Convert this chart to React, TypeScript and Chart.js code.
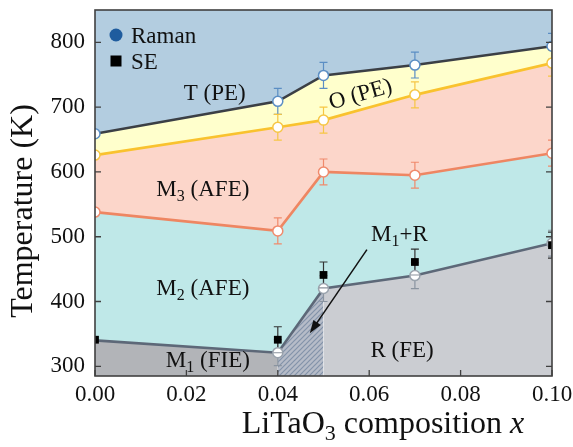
import React, { useEffect, useRef } from "react";
import { Chart, registerables } from "chart.js";
Chart.register(...registerables);

// ---- data ----
const composition = [0, 0.04, 0.05, 0.07, 0.1];
const tBoundary = [659, 709, 749, 765, 794]; // T (PE) | O (PE)
const oBoundary = [626, 669, 680, 719, 768]; // O (PE) | M3 (AFE)
const m3Boundary = [538, 509, 600, 595, 629]; // M3 (AFE) | M2 (AFE)
const m2Boundary = [340, 321, 420, 440, 490]; // M2 (AFE) | M1 (FIE) / R (FE)
const ramanError = [0, 20, 20, 20, 20];
const seComposition = [0, 0.04, 0.05, 0.07, 0.1];
const seTemperature = [341, 341, 441, 461, 487];
const seError = [0, 20, 20, 20, 20];
const xTicks = [0, 0.02, 0.04, 0.06, 0.08, 0.1];
const yTicks = [300, 400, 500, 600, 700, 800];
const xRange = [0, 0.1];
const yRange = [285, 850];

const FONT = '"Liberation Serif", "Times New Roman", serif';

type Part = { t: string; sub?: boolean; it?: boolean };

const phaseLabels: { parts: Part[]; x: number; y: number; rot?: number }[] = [
  { parts: [{ t: "T (PE)" }], x: 0.0262, y: 723 },
  { parts: [{ t: "O (PE)" }], x: 0.058, y: 722, rot: -16 },
  { parts: [{ t: "M" }, { t: "3", sub: true }, { t: " (AFE)" }], x: 0.0236, y: 575 },
  { parts: [{ t: "M" }, { t: "2", sub: true }, { t: " (AFE)" }], x: 0.0236, y: 422 },
  { parts: [{ t: "M" }, { t: "1", sub: true }, { t: " (FIE)" }], x: 0.0247, y: 311 },
  { parts: [{ t: "R (FE)" }], x: 0.0672, y: 327 },
  { parts: [{ t: "M" }, { t: "1", sub: true }, { t: "+R" }], x: 0.0666, y: 506 },
];
const arrowFrom = { x: 0.0595, y: 480 };
const arrowTo = { x: 0.047, y: 351 };

function pts(xs: number[], ys: number[]) {
  return xs.map((x, i) => ({ x, y: ys[i] }));
}

function drawRich(ctx: CanvasRenderingContext2D, parts: Part[], x: number, y: number, size: number, align: "center" | "left") {
  const fontFor = (p: Part) => `${p.it ? "italic " : ""}${p.sub ? Math.round(size * 0.68) : size}px ${FONT}`;
  let total = 0;
  for (const p of parts) {
    ctx.font = fontFor(p);
    total += ctx.measureText(p.t).width;
  }
  let cx = align === "center" ? x - total / 2 : x;
  ctx.textAlign = "left";
  ctx.textBaseline = "alphabetic";
  for (const p of parts) {
    ctx.font = fontFor(p);
    ctx.fillText(p.t, cx, y + (p.sub ? size * 0.22 : 0));
    cx += ctx.measureText(p.t).width;
  }
}

export default function App() {
  const ref = useRef<HTMLCanvasElement | null>(null);
  useEffect(() => {
    document.body.style.margin = "0";
    const canvas = ref.current!;
    const ctx0 = canvas.getContext("2d")!;

    const pc = document.createElement("canvas");
    pc.width = 5;
    pc.height = 5;
    const p = pc.getContext("2d")!;
    p.fillStyle = "#b6bcc8";
    p.fillRect(0, 0, 5, 5);
    p.strokeStyle = "#8393a9";
    p.lineWidth = 1.2;
    p.beginPath();
    p.moveTo(0, 5); p.lineTo(5, 0);
    p.moveTo(-2.5, 2.5); p.lineTo(2.5, -2.5);
    p.moveTo(2.5, 7.5); p.lineTo(7.5, 2.5);
    p.stroke();
    const hatch = ctx0.createPattern(pc, "repeat")!;

    const i01 = [0, 1], i12 = [1, 2], i24 = [2, 3, 4];
    const sel = (arr: number[], idx: number[]) => idx.map((i) => arr[i]);

    const lineDs = (label: string, ys: number[], border: string, pointBorder: string, bg: string, fill: any, err: number[], errColor: string, radii?: number[]) => ({
      type: "line" as const,
      label,
      data: pts(composition, ys),
      borderColor: border,
      borderWidth: 2.6,
      backgroundColor: bg,
      fill,
      pointRadius: radii || 5,
      pointBackgroundColor: "#ffffff",
      pointBorderColor: pointBorder,
      pointBorderWidth: 1.5,
      tension: 0,
      clip: 0,
      order: 1,
      errors: err,
      errColor,
    });

    const clipArea = (ctx: CanvasRenderingContext2D, a: any) => {
      ctx.beginPath();
      ctx.rect(a.left, a.top, a.right - a.left, a.bottom - a.top);
      ctx.clip();
    };

    const errorPlugin = {
      id: "errbars",
      beforeDatasetsDraw(chart: any) {
        const { ctx, chartArea, scales } = chart;
        ctx.save();
        clipArea(ctx, chartArea);
        chart.data.datasets.forEach((ds: any) => {
          if (!ds.errors) return;
          ctx.strokeStyle = ds.errColor;
          ctx.lineWidth = 1.2;
          ds.data.forEach((d: any, i: number) => {
            const e = ds.errors[i];
            if (!e) return;
            const px = scales.x.getPixelForValue(d.x);
            const y1 = scales.y.getPixelForValue(d.y + e);
            const y2 = scales.y.getPixelForValue(d.y - e);
            ctx.beginPath();
            ctx.moveTo(px, y1); ctx.lineTo(px, y2);
            ctx.moveTo(px - 4, y1); ctx.lineTo(px + 4, y1);
            ctx.moveTo(px - 4, y2); ctx.lineTo(px + 4, y2);
            ctx.stroke();
          });
        });
        ctx.restore();
      },
      afterDatasetsDraw(chart: any) {
        // lower caps of the SE error bars sit over the Raman circles
        const { ctx, chartArea, scales } = chart;
        ctx.save();
        clipArea(ctx, chartArea);
        ctx.strokeStyle = "#8a929c";
        ctx.lineWidth = 1.1;
        ctx.beginPath();
        seComposition.forEach((x, i) => {
          if (!seError[i] || i === seComposition.length - 1) return;
          const px = scales.x.getPixelForValue(x);
          const py = scales.y.getPixelForValue(seTemperature[i] - seError[i]);
          ctx.moveTo(px - 4.5, py); ctx.lineTo(px + 4.5, py);
        });
        ctx.stroke();
        ctx.restore();
      },
    };

    const decorPlugin = {
      id: "decor",
      afterDraw(chart: any) {
        const { ctx, chartArea: a, scales } = chart;
        ctx.save();
        // labels
        ctx.fillStyle = "#111";
        phaseLabels.forEach((l) => {
          const px = scales.x.getPixelForValue(l.x);
          const py = scales.y.getPixelForValue(l.y);
          ctx.save();
          ctx.translate(px, py);
          if (l.rot) ctx.rotate((l.rot * Math.PI) / 180);
          drawRich(ctx, l.parts, 0, 8, 23, "center");
          ctx.restore();
        });
        // arrow
        const ax1 = scales.x.getPixelForValue(arrowFrom.x), ay1 = scales.y.getPixelForValue(arrowFrom.y);
        const ax2 = scales.x.getPixelForValue(arrowTo.x), ay2 = scales.y.getPixelForValue(arrowTo.y);
        const ang = Math.atan2(ay2 - ay1, ax2 - ax1);
        ctx.strokeStyle = "#111";
        ctx.lineWidth = 1.5;
        ctx.beginPath();
        ctx.moveTo(ax1, ay1);
        ctx.lineTo(ax2 - 8 * Math.cos(ang), ay2 - 8 * Math.sin(ang));
        ctx.stroke();
        ctx.fillStyle = "#111";
        ctx.beginPath();
        ctx.moveTo(ax2, ay2);
        ctx.lineTo(ax2 - 13 * Math.cos(ang) + 4.5 * Math.sin(ang), ay2 - 13 * Math.sin(ang) - 4.5 * Math.cos(ang));
        ctx.lineTo(ax2 - 13 * Math.cos(ang) - 4.5 * Math.sin(ang), ay2 - 13 * Math.sin(ang) + 4.5 * Math.cos(ang));
        ctx.closePath();
        ctx.fill();
        // legend
        const lx = a.left + 21, ly1 = a.top + 25, ly2 = a.top + 51;
        ctx.fillStyle = "#1f5c9e";
        ctx.beginPath();
        ctx.arc(lx, ly1, 6.5, 0, Math.PI * 2);
        ctx.fill();
        ctx.fillStyle = "#000";
        ctx.fillRect(lx - 5.5, ly2 - 5.5, 11, 11);
        ctx.fillStyle = "#111";
        drawRich(ctx, [{ t: "Raman" }], lx + 15, ly1 + 8, 23, "left");
        drawRich(ctx, [{ t: "SE" }], lx + 15, ly2 + 8, 23, "left");
        // frame
        ctx.strokeStyle = "#404040";
        ctx.lineWidth = 1.6;
        ctx.strokeRect(a.left, a.top, a.right - a.left, a.bottom - a.top);
        // inward ticks
        ctx.lineWidth = 1.3;
        ctx.beginPath();
        yTicks.forEach((v) => {
          const py = scales.y.getPixelForValue(v);
          ctx.moveTo(a.left, py); ctx.lineTo(a.left + 6, py);
          ctx.moveTo(a.right, py); ctx.lineTo(a.right - 6, py);
        });
        xTicks.forEach((v) => {
          const px = scales.x.getPixelForValue(v);
          ctx.moveTo(px, a.bottom); ctx.lineTo(px, a.bottom - 6);
        });
        ctx.stroke();
        // tick labels
        ctx.fillStyle = "#111";
        ctx.font = `23px ${FONT}`;
        ctx.textAlign = "right";
        ctx.textBaseline = "middle";
        yTicks.forEach((v) => {
          ctx.fillText(String(v), a.left - 10, scales.y.getPixelForValue(v));
        });
        ctx.textAlign = "center";
        xTicks.forEach((v) => {
          ctx.fillText(v.toFixed(2), scales.x.getPixelForValue(v), a.bottom + 19);
        });
        // axis titles
        ctx.save();
        ctx.translate(32, 211);
        ctx.rotate(-Math.PI / 2);
        drawRich(ctx, [{ t: "Temperature (K)" }], 0, 0, 32, "center");
        ctx.restore();
        drawRich(ctx, [{ t: "LiTaO" }, { t: "3", sub: true }, { t: " composition " }, { t: "x", it: true }], 383, 433, 32, "center");
        ctx.restore();
      },
    };

    const chart = new Chart(canvas, {
      type: "line",
      data: {
        datasets: [
          lineDs("T", tBoundary, "#3b3f45", "#5b8ec4", "#b3cde0", "end", ramanError, "#5b8ec4"),
          lineDs("O", oBoundary, "#f9c22e", "#f6c644", "#ffffcc", "-1", ramanError, "#f6c644"),
          lineDs("M3", m3Boundary, "#ee8662", "#f08a6c", "#fcd6ca", "-1", ramanError, "#f08a6c"),
          lineDs("M2", m2Boundary, "#5d6878", "#9aa3ad", "#bfe8e8", "-1", ramanError, "#8a94a0", [0, 5, 5, 5, 5]),
          {
            type: "line",
            label: "M1 region",
            data: pts(sel(composition, i01), sel(m2Boundary, i01)),
            borderWidth: 0,
            pointRadius: 0,
            backgroundColor: "#b2b4b8",
            fill: "start",
            order: 5,
          },
          {
            type: "line",
            label: "M1+R region",
            data: pts(sel(composition, i12), sel(m2Boundary, i12)),
            borderWidth: 0,
            pointRadius: 0,
            backgroundColor: hatch,
            fill: "start",
            order: 5,
          },
          {
            type: "line",
            label: "R region",
            data: pts(sel(composition, i24), sel(m2Boundary, i24)),
            borderWidth: 0,
            pointRadius: 0,
            backgroundColor: "#cbcdd2",
            fill: "start",
            order: 5,
          },
          {
            type: "line",
            label: "SE",
            data: pts(seComposition, seTemperature),
            showLine: false,
            pointStyle: "rect",
            pointRadius: 5.5,
            pointBackgroundColor: "#000",
            pointBorderColor: "#000",
            pointBorderWidth: 0,
            clip: 0,
            order: -1,
            errors: seError,
            errColor: "#333",
          } as any,
        ],
      },
      options: {
        animation: false,
        responsive: false,
        events: [],
        layout: { padding: { top: 10, right: 21, left: 0, bottom: 0 } },
        plugins: {
          legend: { display: false },
          tooltip: { enabled: false },
          filler: { drawTime: "beforeDatasetsDraw" } as any,
        },
        scales: {
          x: {
            type: "linear",
            min: xRange[0],
            max: xRange[1],
            grid: { display: false, drawTicks: false },
            border: { display: false },
            afterBuildTicks: (s: any) => { s.ticks = xTicks.map((v) => ({ value: v })); },
            afterFit: (s: any) => { s.height = 71; },
            ticks: { display: false },
          },
          y: {
            type: "linear",
            min: yRange[0],
            max: yRange[1],
            grid: { display: false, drawTicks: false },
            border: { display: false },
            afterBuildTicks: (s: any) => { s.ticks = yTicks.map((v) => ({ value: v })); },
            afterFit: (s: any) => { s.width = 95; },
            ticks: { display: false },
          },
        },
      },
      plugins: [errorPlugin, decorPlugin],
    } as any);
    return () => chart.destroy();
  }, []);
  return (
    <div style={{ width: 573, height: 447 }}>
      <canvas ref={ref} width={573} height={447} style={{ display: "block" }} />
    </div>
  );
}
